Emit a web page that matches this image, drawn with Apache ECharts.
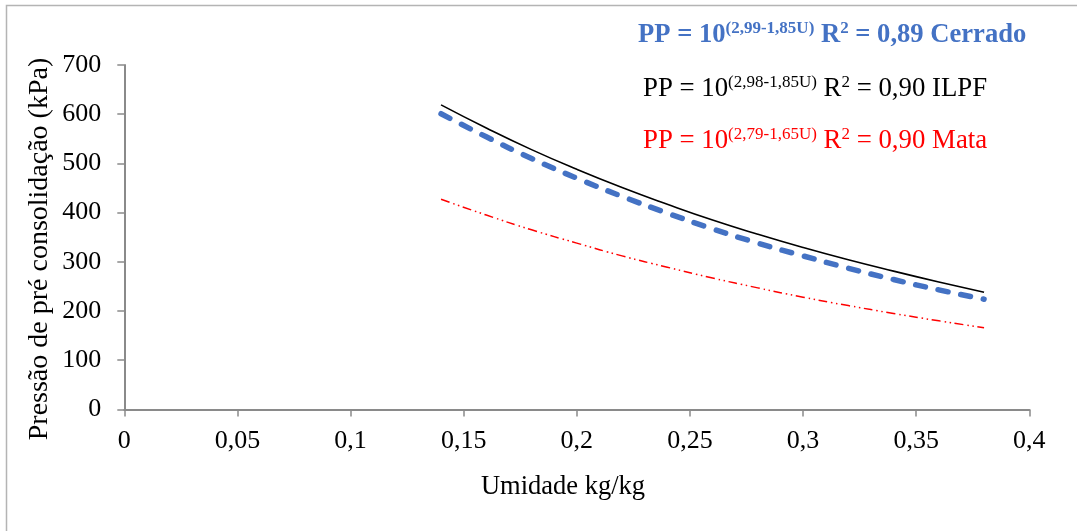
<!DOCTYPE html>
<html>
<head>
<meta charset="utf-8">
<script src="https://cdn.jsdelivr.net/npm/echarts@6/dist/echarts.min.js"></script>
<style>
html,body{margin:0;padding:0;background:#fff;}
#chart{width:1077px;height:531px;}
</style>
</head>
<body>
<div id="chart"></div>
<script>
// Humidity (kg/kg) sample positions
const umidade = [0.14, 0.16, 0.18, 0.20, 0.22, 0.24, 0.26, 0.28, 0.30, 0.32, 0.34, 0.36, 0.38];
// Pre-consolidation pressure (kPa)
const ilpf    = [619, 572, 528, 488, 451, 417, 385, 356, 329, 304, 281, 259, 238];
const cerrado = [601, 554, 510, 470, 433, 399, 367, 338, 312, 287, 264, 243, 224];
const mata    = [427, 395, 365, 338, 312, 289, 267, 247, 228, 211, 195, 180, 166];

const xTicks = { min: 0, max: 0.4, interval: 0.05 };
const yTicks = { min: 0, max: 700, interval: 100 };

const xTitle = 'Umidade kg/kg';
const yTitle = 'Pressão de pré consolidação (kPa)';

const eqCerrado = ['PP = 10', '(2,99-1,85U)', ' R', '2', ' = 0,89 Cerrado'];
const eqIlpf    = ['PP = 10', '(2,98-1,85U)', ' R', '2', ' = 0,90 ILPF'];
const eqMata    = ['PP = 10', '(2,79-1,65U)', ' R', '2', ' = 0,90 Mata'];

const FONT = '"Liberation Serif", "Times New Roman", serif';

function zip(xs, ys) { return xs.map((x, i) => [x, ys[i]]); }
function fmt(v) { return String(+Number(v).toFixed(2)).replace('.', ','); }

function eqText(parts) {
  return '{m|' + parts[0] + '}{s|' + parts[1] + '}{m|' + parts[2] + '}{s|' + parts[3] + '}{m|' + parts[4] + '}';
}
function eqRich(color, bold, size, supSize) {
  return {
    m: { fontFamily: FONT, fontSize: size, fontWeight: bold ? 'bold' : 'normal', fill: color, color: color, lineHeight: 28, verticalAlign: 'bottom' },
    s: { fontFamily: FONT, fontSize: supSize, fontWeight: bold ? 'bold' : 'normal', fill: color, color: color, verticalAlign: 'top' }
  };
}

const chart = echarts.init(document.getElementById('chart'), null, { renderer: 'canvas' });

const option = {
  backgroundColor: '#ffffff',
  animation: false,
  grid: { left: 124.3, right: 47.7, top: 65, bottom: 121.6, containLabel: false },
  xAxis: {
    type: 'value',
    min: xTicks.min, max: xTicks.max, interval: xTicks.interval,
    axisLine: { show: true, onZero: false, lineStyle: { color: '#8a8a8a', width: 2 } },
    axisTick: { show: true, inside: false, length: 7, lineStyle: { color: '#8a8a8a', width: 1.5 } },
    splitLine: { show: false },
    axisLabel: { margin: 19, color: '#000', fontFamily: FONT, fontSize: 26, formatter: fmt }
  },
  yAxis: {
    type: 'value',
    min: yTicks.min, max: yTicks.max, interval: yTicks.interval,
    axisLine: { show: true, lineStyle: { color: '#8a8a8a', width: 2 } },
    axisTick: { show: true, inside: false, length: 7, lineStyle: { color: '#8a8a8a', width: 1.5 } },
    splitLine: { show: false },
    axisLabel: { margin: 23, color: '#000', fontFamily: FONT, fontSize: 26 }
  },
  series: [
    {
      name: 'ILPF', type: 'line', data: zip(umidade, ilpf), smooth: true, showSymbol: false, symbol: 'none',
      lineStyle: { color: '#000000', width: 1.6 }, z: 3
    },
    {
      name: 'Cerrado', type: 'line', data: zip(umidade, cerrado), smooth: true, showSymbol: false, symbol: 'none',
      lineStyle: { color: '#4472C4', width: 5.5, type: [10, 13], cap: 'round' }, z: 2
    },
    {
      name: 'Mata', type: 'line', data: zip(umidade, mata), smooth: true, showSymbol: false, symbol: 'none',
      lineStyle: { color: '#FF0000', width: 1.5, type: [9, 4, 1.5, 3.5, 1.5, 3.5] }, z: 2
    }
  ],
  graphic: [
    {
      type: 'rect', silent: true, z: 0,
      shape: { x: 6.5, y: 5.5, width: 1200, height: 700 },
      style: { fill: 'none', stroke: '#b4b4b4', lineWidth: 1.5 }
    },
    {
      type: 'text', silent: true,
      style: { x: 40, y: 249, text: yTitle, font: '28px ' + FONT, fill: '#000', align: 'center', verticalAlign: 'middle' },
      rotation: Math.PI / 2, originX: 40, originY: 249
    },
    {
      type: 'text', silent: true,
      style: { x: 563, y: 487, text: xTitle, font: '26.5px ' + FONT, fill: '#000', align: 'center', verticalAlign: 'middle' }
    },
    {
      type: 'text', silent: true,
      style: { x: 638, y: 20.5, text: eqText(eqCerrado), rich: eqRich('#4472C4', true, 26.6, 17), align: 'left', verticalAlign: 'top' }
    },
    {
      type: 'text', silent: true,
      style: { x: 643, y: 74, text: eqText(eqIlpf), rich: eqRich('#000000', false, 26.8, 17), align: 'left', verticalAlign: 'top' }
    },
    {
      type: 'text', silent: true,
      style: { x: 643, y: 126, text: eqText(eqMata), rich: eqRich('#FF0000', false, 26.8, 17), align: 'left', verticalAlign: 'top' }
    }
  ]
};
chart.setOption(option);
</script>
</body>
</html>
